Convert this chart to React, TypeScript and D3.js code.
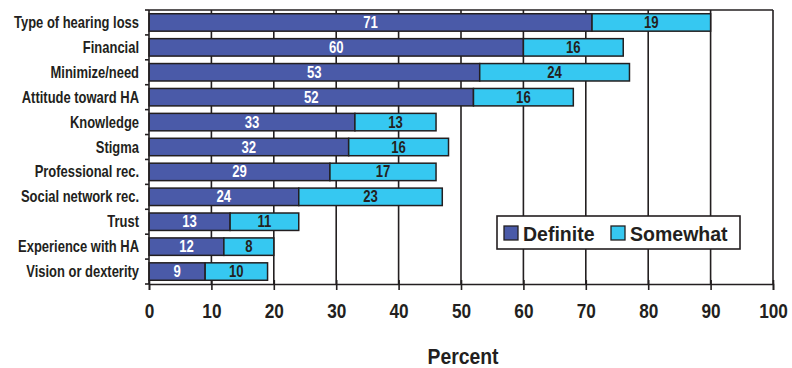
import React, { useEffect, useRef } from 'react';
import * as d3 from 'd3';

const categories = [
  'Type of hearing loss',
  'Financial',
  'Minimize/need',
  'Attitude toward HA',
  'Knowledge',
  'Stigma',
  'Professional rec.',
  'Social network rec.',
  'Trust',
  'Experience with HA',
  'Vision or dexterity',
];
const definite = [71, 60, 53, 52, 33, 32, 29, 24, 13, 12, 9];
const somewhat = [19, 16, 24, 16, 13, 16, 17, 23, 11, 8, 10];
const xTicks = [0, 10, 20, 30, 40, 50, 60, 70, 80, 90, 100];
const seriesNames = ['Definite', 'Somewhat'];

// no condensed face installed, so squeeze Liberation Sans horizontally
const FONT = '"Liberation Sans", Arial, sans-serif';
const DARK = '#4a5aa8';
const LIGHT = '#36c8f1';
const INK = '#231f20';

const App: React.FC = () => {
  const svgRef = useRef<SVGSVGElement | null>(null);

  useEffect(() => {
    if (!svgRef.current) return;
    const width = 792;
    const height = 368;
    const margin = { top: 10, right: 19, bottom: 84, left: 149 };
    const innerW = width - margin.left - margin.right;
    const innerH = height - margin.top - margin.bottom;

    const root = d3.select(svgRef.current);
    root.selectAll('*').remove();
    root.attr('width', width).attr('height', height);

    const svg = root.append('g').attr('transform', `translate(${margin.left},${margin.top})`);

    const x = d3.scaleLinear().domain([0, 100]).range([0, innerW]);
    const y = d3.scaleBand().domain(categories).range([0, innerH]).paddingInner(0.3).paddingOuter(0.15);
    const step = y.step();

    // grid + frame
    svg
      .selectAll('.grid')
      .data(xTicks.slice(1))
      .enter()
      .append('line')
      .attr('x1', (d) => x(d))
      .attr('x2', (d) => x(d))
      .attr('y1', 0)
      .attr('y2', innerH)
      .attr('stroke', INK)
      .attr('stroke-width', 1.6);
    svg
      .append('line')
      .attr('x1', 0)
      .attr('x2', innerW)
      .attr('y1', 0)
      .attr('y2', 0)
      .attr('stroke', INK)
      .attr('stroke-width', 1.6);

    // stacked bars
    const rows = categories.map((c, i) => ({ c, d: definite[i], s: somewhat[i] }));
    const barY = (c: string) => y(c) as number;
    const midY = (c: string) => barY(c) + y.bandwidth() / 2 + 5.5;

    svg
      .selectAll('.bar-d')
      .data(rows)
      .enter()
      .append('rect')
      .attr('x', 0)
      .attr('y', (r) => barY(r.c))
      .attr('width', (r) => x(r.d))
      .attr('height', y.bandwidth())
      .attr('fill', DARK)
      .attr('stroke', INK)
      .attr('stroke-width', 1.5);

    svg
      .selectAll('.bar-s')
      .data(rows)
      .enter()
      .append('rect')
      .attr('x', (r) => x(r.d))
      .attr('y', (r) => barY(r.c))
      .attr('width', (r) => x(r.d + r.s) - x(r.d))
      .attr('height', y.bandwidth())
      .attr('fill', LIGHT)
      .attr('stroke', INK)
      .attr('stroke-width', 1.5);

    svg
      .selectAll('.lab-d')
      .data(rows)
      .enter()
      .append('text')
      .attr('transform', (r) => `translate(${x(r.d / 2)},${midY(r.c)}) scale(0.82,1)`)
      .attr('text-anchor', 'middle')
      .attr('font-family', FONT)
      .attr('font-weight', 'bold')
      .attr('font-size', 16)
      .attr('fill', 'white')
      .text((r) => r.d);

    svg
      .selectAll('.lab-s')
      .data(rows)
      .enter()
      .append('text')
      .attr('transform', (r) => `translate(${x(r.d + r.s / 2)},${midY(r.c)}) scale(0.82,1)`)
      .attr('text-anchor', 'middle')
      .attr('font-family', FONT)
      .attr('font-weight', 'bold')
      .attr('font-size', 16)
      .attr('fill', INK)
      .text((r) => r.s);

    // left axis
    const yAxis = svg.append('g');
    yAxis
      .append('line')
      .attr('x1', 0)
      .attr('x2', 0)
      .attr('y1', 0)
      .attr('y2', innerH)
      .attr('stroke', INK)
      .attr('stroke-width', 1.6);
    yAxis
      .selectAll('.ytick')
      .data(d3.range(categories.length + 1))
      .enter()
      .append('line')
      .attr('x1', -4)
      .attr('x2', 0)
      .attr('y1', (i) => i * step)
      .attr('y2', (i) => i * step)
      .attr('stroke', INK)
      .attr('stroke-width', 1.6);
    yAxis
      .selectAll('.ylab')
      .data(categories)
      .enter()
      .append('text')
      .attr('transform', (c) => `translate(-10,${midY(c)}) scale(0.81,1)`)
      .attr('text-anchor', 'end')
      .attr('font-family', FONT)
      .attr('font-weight', 'bold')
      .attr('font-size', 16)
      .attr('fill', INK)
      .text((c) => c);

    // bottom axis
    const xAxis = svg
      .append('g')
      .attr('transform', `translate(0,${innerH})`)
      .call(d3.axisBottom(x).tickValues(xTicks).tickSize(6).tickPadding(0).tickFormat(d3.format('d')));
    xAxis.select('.domain').attr('stroke', INK).attr('stroke-width', 1.6);
    xAxis
      .selectAll('.tick line')
      .attr('y1', -4)
      .attr('y2', 6)
      .attr('stroke', INK)
      .attr('stroke-width', 1.6);
    xAxis
      .selectAll('.tick text')
      .attr('y', null)
      .attr('dy', null)
      .attr('transform', 'translate(0,34) scale(0.82,1)')
      .attr('font-family', FONT)
      .attr('font-weight', 'bold')
      .attr('font-size', 21)
      .attr('fill', INK);

    svg
      .append('text')
      .attr('transform', `translate(${x(0) + 314},${innerH + 80}) scale(0.88,1)`)
      .attr('text-anchor', 'middle')
      .attr('font-family', FONT)
      .attr('font-weight', 'bold')
      .attr('font-size', 22)
      .attr('fill', INK)
      .text('Percent');

    // legend
    const legend = svg.append('g').attr('transform', `translate(${497 - margin.left},${216 - margin.top})`);
    legend
      .append('rect')
      .attr('width', 243)
      .attr('height', 33)
      .attr('fill', 'white')
      .attr('stroke', INK)
      .attr('stroke-width', 1.6);
    const items = [
      { name: seriesNames[0], color: DARK, x: 7 },
      { name: seriesNames[1], color: LIGHT, x: 114 },
    ];
    const item = legend
      .selectAll('.item')
      .data(items)
      .enter()
      .append('g')
      .attr('transform', (d) => `translate(${d.x},0)`);
    item
      .append('rect')
      .attr('y', 10)
      .attr('width', 14)
      .attr('height', 14)
      .attr('fill', (d) => d.color)
      .attr('stroke', INK)
      .attr('stroke-width', 1.3);
    item
      .append('text')
      .attr('transform', 'translate(19,24.5) scale(0.93,1)')
      .attr('font-family', FONT)
      .attr('font-weight', 'bold')
      .attr('font-size', 21)
      .attr('fill', INK)
      .text((d) => d.name);
  }, []);

  return (
    <div style={{ position: 'absolute', left: 0, top: 0 }}>
      <svg ref={svgRef} style={{ display: 'block' }}></svg>
    </div>
  );
};

export default App;
